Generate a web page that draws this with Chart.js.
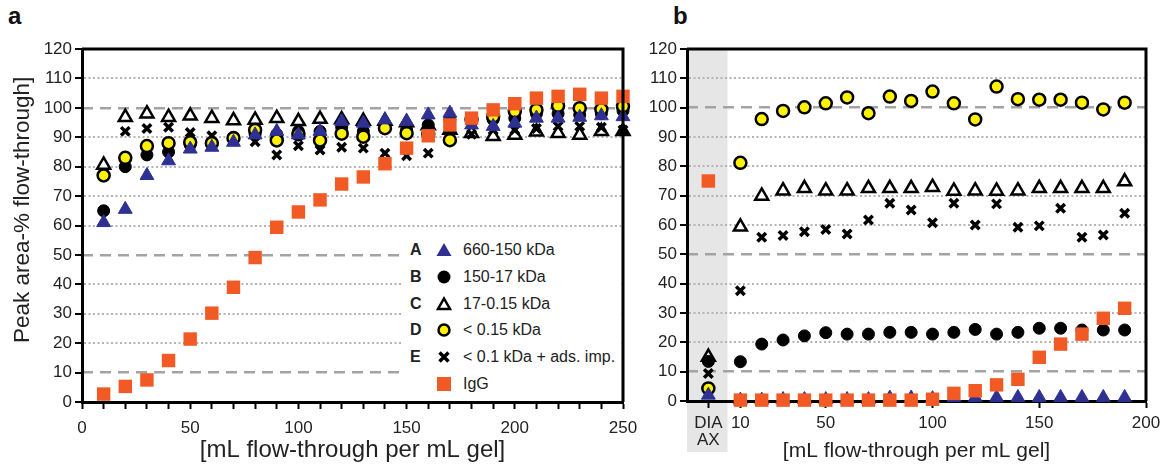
<!DOCTYPE html>
<html>
<head>
<meta charset="utf-8">
<script src="https://cdn.jsdelivr.net/npm/chart.js@4.4.0/dist/chart.umd.min.js"></script>
<style>
  body { margin:0; width:1163px; height:465px; background:#fff; position:relative; overflow:hidden; font-family:'Liberation Sans', Arial, sans-serif; }
  canvas { position:absolute; top:0; }
  #chartA { left:0; }
  #chartB { left:640px; }
  .panel { position:absolute; top:2px; font-weight:bold; font-size:24px; color:#111; }
  #legend { position:absolute; left:403px; top:236px; width:218px; height:164px; background:#fff; }
  .row { position:absolute; left:0; height:20px; width:218px; font-size:16px; color:#222; line-height:20px; white-space:nowrap; }
  .row b { position:absolute; left:7px; }
  .row svg { position:absolute; left:31px; top:0; }
  .row span { position:absolute; left:60px; }
</style>
</head>
<body>
<div class="panel" style="left:8px">a</div>
<div class="panel" style="left:673px">b</div>
<canvas id="chartA" width="640" height="465"></canvas>
<canvas id="chartB" width="523" height="465"></canvas>
<div id="legend"></div>
<script>
// シリーズ名
const seriesLetters = ['A', 'B', 'C', 'D', 'E', ''];
const seriesNames = ['660-150 kDa', '150-17 kDa', '17-0.15 kDa', '< 0.15 kDa', '< 0.1 kDa + ads. imp.', 'IgG'];

// パネルa のデータ
const xA = [10, 20, 30, 40, 50, 60, 70, 80, 90, 100, 110, 120, 130, 140, 150, 160, 170, 180, 190, 200, 210, 220, 230, 240, 250];
const aA = [61, 65.5, 77, 82, 86, 86.6, 88.3, 90.8, 92, 90.8, 92, 95.4, 94.8, 95.9, 95.4, 97.6, 98.2, 94.2, 93.7, 94.8, 96.5, 96.5, 96.8, 97.3, 97];
const aB = [65, 80, 84, 85, 87.4, 88, 90, 91, 91, 92, 92, 93.4, 92, 94.2, 92.5, 94.2, 96, 96, 96, 96.5, 98, 98, 97.6, 98, 99];
const aC = [80.6, 96.8, 98, 96.8, 97.3, 96.5, 95.7, 95.9, 96.5, 95.4, 96.2, 96, 95.5, 95.5, 95, 94, 92.5, 91.4, 90.3, 90.8, 91.9, 91.4, 90.8, 92, 92];
const aD = [77, 83, 87, 88, 88.3, 88, 89.7, 92.5, 88.9, 91, 88.9, 91.2, 90.2, 93.1, 91.4, 91, 89, 96, 97, 98.8, 99.3, 100.7, 99.9, 99.5, 100.5];
const aE = [65, 92, 93, 93.4, 91.6, 90.5, 89, 88.5, 84, 87.1, 85.7, 86.6, 86.3, 84.6, 83.7, 84.6, 92.5, 91, 92.5, 92.5, 93, 93.7, 93.7, 93.4, 92.5];
const aIgG = [2.7, 5.3, 7.5, 14.1, 21.4, 30.2, 39, 49.1, 59.4, 64.6, 68.7, 74.1, 76.5, 81, 86.3, 90.5, 94.2, 96.5, 99.3, 101.4, 103.3, 103.9, 104.6, 103.3, 103.9];

// パネルb のデータ (-5 = DIA AX)
const xB = [-5, 10, 20, 30, 40, 50, 60, 70, 80, 90, 100, 110, 120, 130, 140, 150, 160, 170, 180, 190];
const bA = [2, 0.3, 0.3, 0.5, 0.5, 0.5, 0.5, 0.5, 1, 1, 0.8, 1.2, 1.2, 1.2, 1.2, 1.2, 1.2, 1.2, 1.2, 1.2];
const bB = [13.5, 13.4, 19.4, 20.8, 22.2, 23.3, 22.8, 22.8, 23.4, 23.4, 22.8, 23.4, 24.4, 22.8, 23.4, 24.8, 24.8, 24.2, 24.2, 24.2];
const bC = [15, 59.4, 69.9, 71.7, 72.5, 71.7, 71.7, 72.5, 72.5, 72.5, 72.9, 71.6, 71.7, 71.6, 71.7, 72.5, 72.5, 72.5, 72.5, 74.8];
const bD = [4.3, 81.2, 96.1, 98.9, 100.1, 101.5, 103.5, 98.1, 103.8, 102.3, 105.5, 101.5, 96, 107.2, 102.9, 102.7, 102.7, 101.7, 99.4, 101.7];
const bE = [9.4, 37.6, 55.8, 56.4, 57.7, 58.5, 56.9, 61.7, 67.4, 65.1, 60.8, 67.4, 60, 67.2, 59.2, 59.7, 65.7, 55.8, 56.6, 64];
const bIgG = [75, 0.3, 0.3, 0.3, 0.3, 0.3, 0.3, 0.3, 0.3, 0.3, 0.6, 2.6, 3.5, 5.5, 7.4, 14.9, 19.4, 22.8, 28.2, 31.6];

// 目盛り
const yTickStep = 10;
const dashedLevels = [10, 50, 100];
const xTicksB = [-5, 10, 50, 100, 150, 200];
const xTickLabelsB = [['DIA', 'AX'], '10', '50', '100', '150', '200'];

// マーカーのスタイル
const styles = [
    { pointStyle: 'triangle', radius: 8, bg: '#2e3192', border: '#2e3192', bw: 1 },
    { pointStyle: 'circle', radius: 6, bg: '#000', border: '#000', bw: 1 },
    { pointStyle: 'triangle', radius: 7.5, bg: '#fff', border: '#000', bw: 2.5 },
    { pointStyle: 'circle', radius: 6, bg: '#fff200', border: '#000', bw: 2.5 },
    { pointStyle: 'crossRot', radius: 6, bg: '#000', border: '#000', bw: 3.5 },
    { pointStyle: 'rect', radius: 9.5, bg: '#f15a24', border: '#f15a24', bw: 0 },
];
// 先頭が一番上に描かれる
const drawOrder = [5, 0, 3, 1, 4, 2];

Chart.defaults.font.family = "'Liberation Sans', Arial, sans-serif";
Chart.defaults.color = '#222';

function makeDatasets(xs, series) {
    return drawOrder.map(i => ({
        label: seriesNames[i],
        data: xs.map((x, k) => ({ x: x, y: series[i][k] })),
        showLine: false,
        clip: false,
        pointStyle: styles[i].pointStyle,
        pointRadius: styles[i].radius,
        pointHoverRadius: styles[i].radius,
        pointBackgroundColor: styles[i].bg,
        pointBorderColor: styles[i].border,
        pointBorderWidth: styles[i].bw,
    }));
}

// 枠線(上・右)
const framePlugin = {
    id: 'frame',
    afterDraw(chart) {
        const a = chart.chartArea, ctx = chart.ctx;
        ctx.save();
        ctx.strokeStyle = '#000';
        ctx.lineWidth = 3;
        ctx.beginPath();
        ctx.moveTo(a.left, a.top);
        ctx.lineTo(a.right, a.top);
        ctx.lineTo(a.right, a.bottom);
        ctx.stroke();
        ctx.restore();
    }
};

// DIA AX の灰色帯
const bandPlugin = {
    id: 'band',
    beforeDraw(chart) {
        const x = chart.scales.x, a = chart.chartArea, ctx = chart.ctx;
        const x0 = x.getPixelForValue(-15), x1 = x.getPixelForValue(4);
        ctx.save();
        ctx.fillStyle = '#e6e6e6';
        ctx.fillRect(x0, a.top, x1 - x0, 452 - a.top);
        ctx.restore();
    }
};

// x軸の高さを固定し、ラベルのはみ出し分の余白を消す
function fixX(height) {
    return s => { s.height = height; s.paddingLeft = 0; s.paddingRight = 0; };
}

function yScales(leftWidth, titleText) {
    return {
        y: {
            type: 'linear', min: 0, max: 120,
            ticks: { stepSize: yTickStep, font: { size: 17 }, padding: 3, color: '#222' },
            grid: {
                color: c => (dashedLevels.includes(c.tick.value) || c.tick.value === 0 || c.tick.value === 120) ? 'rgba(0,0,0,0)' : '#b4b4b4',
                lineWidth: 2, tickLength: 7, tickColor: '#000', tickWidth: 2, tickBorderDash: []
            },
            border: { color: '#000', width: 3, dash: [2, 2.5] },
            title: { display: !!titleText, text: titleText, font: { size: 22.5 }, color: '#222', padding: { top: 9 } },
            afterFit: s => { s.width = leftWidth; }
        },
        yDash: {
            type: 'linear', min: 0, max: 120, position: 'left',
            ticks: { display: false, stepSize: yTickStep },
            grid: {
                color: c => dashedLevels.includes(c.tick.value) ? '#a3a3a3' : 'rgba(0,0,0,0)',
                lineWidth: 2.5, drawTicks: false
            },
            border: { display: false, dash: [11, 7] },
            afterFit: s => { s.width = 0; }
        }
    };
}

// パネルa
new Chart(document.getElementById('chartA'), {
    type: 'scatter',
    data: { datasets: makeDatasets(xA, [aA, aB, aC, aD, aE, aIgG]) },
    options: {
        responsive: false, animation: false,
        layout: { padding: { top: 49, right: 17, left: 0, bottom: 0 } },
        plugins: { legend: { display: false }, tooltip: { enabled: false } },
        scales: Object.assign({
            x: {
                type: 'linear', min: 0, max: 250,
                ticks: { stepSize: 10, autoSkip: false, maxRotation: 0, font: { size: 17 }, padding: 9, color: '#222',
                    callback: v => (v % 50 === 0 ? v : '') },
                grid: { drawOnChartArea: false, tickLength: 7, tickColor: '#000', tickWidth: 2 },
                border: { color: '#000', width: 3 },
                title: { display: true, text: '[mL flow-through per mL gel]', font: { size: 24 }, color: '#222', padding: { top: 0, bottom: 0 } },
                afterFit: fixX(63)
            }
        }, yScales(82, '     Peak area-% flow-through]'))
    },
    plugins: [framePlugin]
});

// パネルb
new Chart(document.getElementById('chartB'), {
    type: 'scatter',
    data: { datasets: makeDatasets(xB, [bA, bB, bC, bD, bE, bIgG]) },
    options: {
        responsive: false, animation: false,
        layout: { padding: { top: 49, right: 17, left: 0, bottom: 0 } },
        plugins: { legend: { display: false }, tooltip: { enabled: false } },
        scales: Object.assign({
            x: {
                type: 'linear', min: -15, max: 200,
                afterBuildTicks: s => { s.ticks = xTicksB.map(v => ({ value: v })); },
                ticks: { autoSkip: false, maxRotation: 0, font: { size: 17, lineHeight: 1.05 }, padding: 6, color: '#222',
                    callback: (v, i) => xTickLabelsB[i] },
                grid: { drawOnChartArea: false, tickLength: 7, tickColor: '#000', tickWidth: 2 },
                border: { color: '#000', width: 3 },
                title: { display: true, text: '[mL flow-through per mL gel]', font: { size: 21 }, color: '#222', padding: { top: 0, bottom: 1 } },
                afterFit: fixX(64)
            }
        }, yScales(47, ''))
    },
    plugins: [bandPlugin, framePlugin]
});

// 凡例(HTML)
function markerSvg(i) {
    const st = styles[i];
    let shape = '';
    if (i === 0) shape = '<polygon points="10,3 17.5,16 2.5,16" fill="' + st.bg + '"/>';
    if (i === 1) shape = '<circle cx="10" cy="10" r="6.5" fill="#000"/>';
    if (i === 2) shape = '<polygon points="10,4.5 16,15 4,15" fill="#fff" stroke="#000" stroke-width="2.5"/>';
    if (i === 3) shape = '<circle cx="10" cy="10" r="5.5" fill="#fff200" stroke="#000" stroke-width="2.5"/>';
    if (i === 4) shape = '<path d="M5.5,5.5 L14.5,14.5 M14.5,5.5 L5.5,14.5" stroke="#000" stroke-width="3.5"/>';
    if (i === 5) shape = '<rect x="3" y="3" width="14" height="14" fill="' + st.bg + '"/>';
    return '<svg width="20" height="20" viewBox="0 0 20 20">' + shape + '</svg>';
}
const legend = document.getElementById('legend');
seriesNames.forEach((name, i) => {
    const row = document.createElement('div');
    row.className = 'row';
    row.style.top = (4 + i * 26.8) + 'px';
    row.innerHTML = '<b>' + seriesLetters[i] + '</b>' + markerSvg(i) + '<span></span>';
    row.querySelector('span').textContent = name;
    legend.appendChild(row);
});
</script>
</body>
</html>
